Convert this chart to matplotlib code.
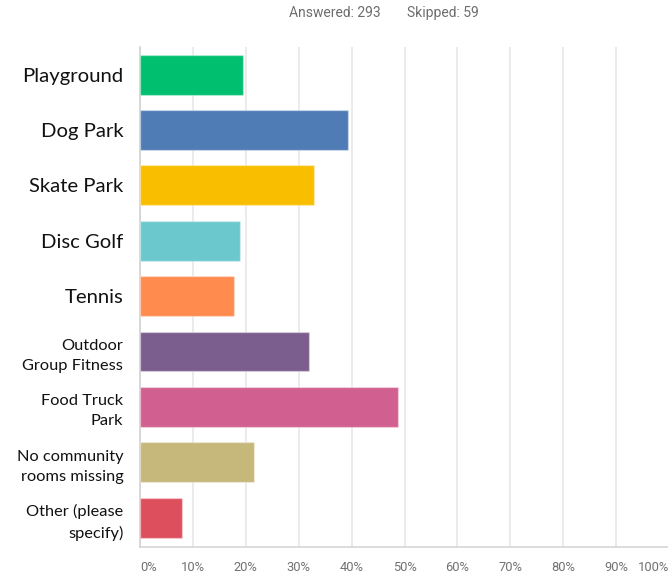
import matplotlib
matplotlib.use("Agg")
import matplotlib.pyplot as plt

# Survey responses: share of respondents choosing each amenity (%)
categories = [
    "Playground",
    "Dog Park",
    "Skate Park",
    "Disc Golf",
    "Tennis",
    "Outdoor\nGroup Fitness",
    "Food Truck\nPark",
    "No community\nrooms missing",
    "Other (please\nspecify)",
]
values = [19.4, 39.3, 32.9, 18.9, 17.8, 32.0, 48.7, 21.6, 7.9]
colors = [
    "#00BF6F", "#507CB6", "#F9BE00", "#6BC8CD", "#FF8B4F",
    "#7B5E8E", "#D15F8F", "#C5B87A", "#DE4F5D",
]
tick_values = list(range(0, 101, 10))
tick_labels = [f"{v}%" for v in tick_values]
answered = 293
skipped = 59

W, H = 668, 578
fig = plt.figure(figsize=(W / 100, H / 100), dpi=100)
fig.patch.set_facecolor("white")

left_px, right_px, top_px, bottom_px = 140, 669, 47, 547
ax = fig.add_axes([left_px / W, (H - bottom_px) / H,
                   (right_px - left_px) / W, (bottom_px - top_px) / H])

y = list(range(len(categories)))
ax.barh(y, values, height=0.72, color=colors,
        edgecolor=(1, 1, 1, 0.35), linewidth=1.0, zorder=3)

ax.set_xlim(0, 100)
ax.set_ylim(len(categories) - 0.47, -0.5)

ax.set_xticks(tick_values)
ax.set_xticklabels(tick_labels, fontsize=9.3, color="#707070", family="Roboto")
ax.tick_params(axis="x", length=0, pad=10)
xl = ax.get_xticklabels()
xl[0].set_ha("left")
xl[-1].set_ha("right")

ax.set_yticks(y)
ax.set_yticklabels(categories, family="Lato", color="#111111", linespacing=1.55)
ax.tick_params(axis="y", length=0, pad=12)
for i, lbl in enumerate(ax.get_yticklabels()):
    lbl.set_fontsize(14.6 if i < 5 else 11.8)
    lbl.set_multialignment("right")

ax.grid(axis="x", color="#e6e6e6", linewidth=1.1, zorder=0)
ax.set_axisbelow(True)
for side in ("top", "right"):
    ax.spines[side].set_visible(False)
ax.spines["left"].set_color("#cfcfcf")
ax.spines["left"].set_linewidth(1.1)
ax.spines["bottom"].set_color("#d2d2d2")
ax.spines["bottom"].set_linewidth(1.1)

fig.text(289 / W, 1 - 13 / H, f"Answered: {answered}", family="Roboto",
         fontsize=10, color="#6d6d6d", ha="left", va="center")
fig.text(407 / W, 1 - 13 / H, f"Skipped: {skipped}", family="Roboto",
         fontsize=10, color="#6d6d6d", ha="left", va="center")

fig.savefig("out.png", dpi=100, facecolor="white")
